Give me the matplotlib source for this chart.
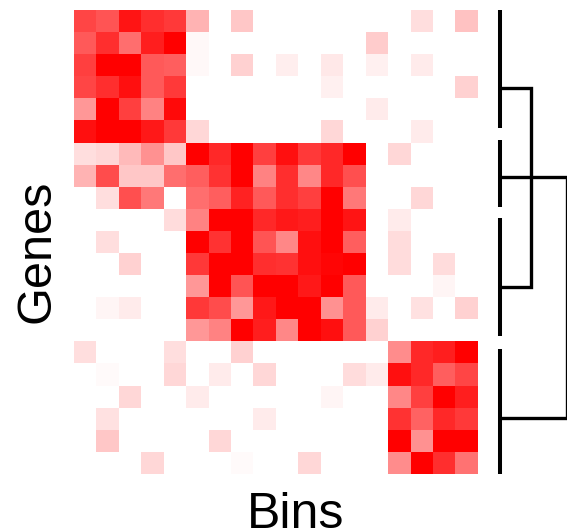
import numpy as np
import matplotlib
matplotlib.use("Agg")
import matplotlib.pyplot as plt
from matplotlib.colors import LinearSegmentedColormap

# expression level per gene (rows) and bin (columns), 0 = white, 1 = full red
expression = [
    [.73, .67, .92, .82, .77, .30, 0, .22, 0, 0, 0, 0, 0, 0, 0, .13, 0, .24],
    [.65, .82, .57, .88, 1.0, .03, 0, 0, 0, 0, 0, 0, 0, .20, 0, 0, 0, 0],
    [.75, 1.0, 1.0, .65, .63, .03, 0, .18, 0, .07, 0, .09, 0, .06, 0, .08, 0, 0],
    [.73, .82, .94, .65, .77, 0, 0, 0, 0, 0, 0, .06, 0, 0, 0, 0, 0, .18],
    [.41, 1.0, .75, .49, .96, 0, 0, 0, 0, 0, 0, 0, 0, .08, 0, 0, 0, 0],
    [.94, 1.0, 1.0, .90, .77, .16, 0, 0, 0, 0, 0, .16, 0, 0, 0, .08, 0, 0],
    [.13, .16, .27, .43, .22, 1.0, .84, 1.0, .75, .94, .77, .84, 1.0, 0, .16, 0, 0, 0],
    [.30, .70, .22, .22, .57, .63, .80, 1.0, .49, .82, .47, .84, .69, 0, 0, 0, 0, 0],
    [0, .13, .69, .53, 0, .57, .63, .86, .65, .82, .75, 1.0, .53, 0, 0, .16, 0, 0],
    [0, 0, 0, 0, .14, .49, 1.0, 1.0, .84, .90, .88, 1.0, .92, 0, .08, 0, 0, 0],
    [0, .13, 0, 0, 0, 1.0, .80, 1.0, .67, .47, .94, 1.0, .63, 0, .14, 0, 0, 0],
    [0, 0, .18, 0, 0, .78, 1.0, 1.0, .82, .80, .94, .98, 1.0, 0, .14, 0, .14, 0],
    [0, 0, 0, 0, 0, .41, 1.0, .67, 1.0, 1.0, .90, 1.0, .65, 0, 0, 0, .04, 0],
    [0, .04, .08, 0, 0, .78, .70, .41, .90, 1.0, 1.0, .43, .65, .08, 0, .12, 0, .18],
    [0, 0, 0, 0, 0, .41, .49, 1.0, .88, .47, 1.0, .94, .65, .18, 0, 0, 0, 0],
    [.13, 0, 0, 0, .13, 0, 0, .18, 0, 0, 0, 0, 0, 0, .45, .84, .88, 1.0],
    [0, .02, 0, 0, .16, 0, .08, 0, .16, 0, 0, 0, .14, .08, .94, .84, .63, .73],
    [0, 0, .16, 0, 0, .08, 0, 0, 0, 0, 0, .04, 0, 0, .47, .75, 1.0, .88],
    [0, .12, 0, 0, 0, 0, 0, 0, .08, 0, 0, 0, 0, 0, .80, .61, .84, .77],
    [0, .22, 0, 0, 0, 0, .16, 0, 0, 0, 0, 0, 0, 0, 1.0, .43, 1.0, 1.0],
    [0, 0, 0, .16, 0, 0, 0, .02, 0, 0, .16, 0, 0, 0, .45, 1.0, .82, .55],
]

# gene clusters shown as bars on the right (row units)
cluster_top = [0.0, 5.88, 9.41, 15.29]
cluster_bottom = [5.34, 8.91, 14.71, 20.95]
# links: (row of first cluster, row of second cluster, link height)
link_a = [3.53, 7.56]
link_b = [12.49, 18.42]
link_height = [51, 86.5]
leaf_x = 20

W, H = 567, 531
fig = plt.figure(figsize=(W / 100, H / 100), dpi=100)

# heatmap
ax = fig.add_axes([74 / W, (H - 474) / H, 404 / W, 464 / H])
cmap = LinearSegmentedColormap.from_list("wr", ["white", "red"])
ax.imshow(np.array(expression), cmap=cmap, vmin=0, vmax=1,
          aspect="auto", interpolation="nearest")
ax.set_axis_off()

# dendrogram
dax = fig.add_axes([480 / W, (H - 474) / H, 87 / W, 464 / H])
dax.set_xlim(0, 87)
dax.set_ylim(20.95, 0)
dax.set_axis_off()
for top, bot in zip(cluster_top, cluster_bottom):
    dax.plot([leaf_x, leaf_x], [top, bot], color="black", lw=2.9,
             solid_capstyle="butt")
for a, b, h in zip(link_a, link_b, link_height):
    dax.plot([leaf_x, h, h, leaf_x], [a, a, b, b], color="black", lw=2.4,
             solid_capstyle="butt", solid_joinstyle="miter")

# axis labels
font = ["Liberation Sans", "DejaVu Sans"]
fig.text(296 / W, (H - 528) / H, "Bins", fontsize=36, family=font,
         ha="center", va="baseline")
fig.text(50 / W, (H - 251) / H, "Genes", fontsize=35, family=font,
         rotation=90, rotation_mode="anchor", ha="center", va="baseline")

fig.savefig("out.png", dpi=100)
